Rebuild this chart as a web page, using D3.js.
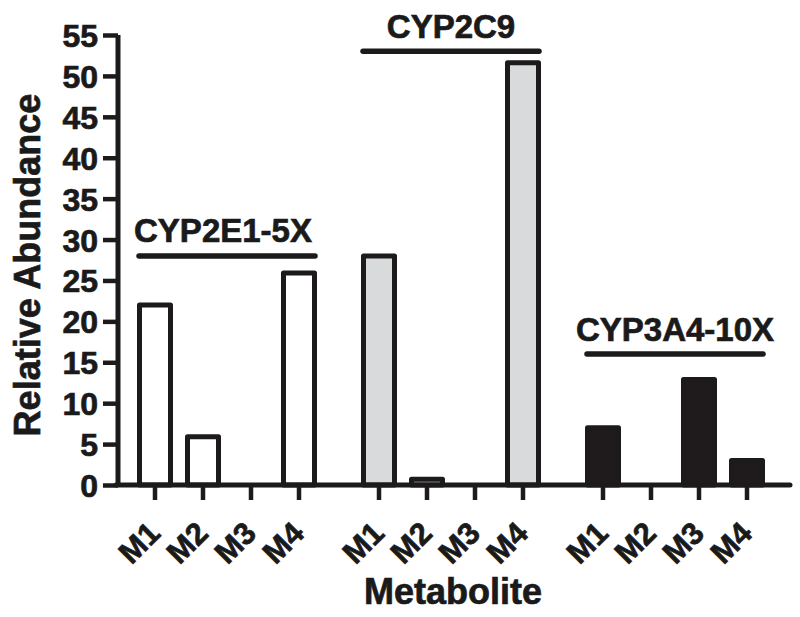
<!DOCTYPE html>
<html>
<head>
<meta charset="utf-8">
<script src="https://cdn.jsdelivr.net/npm/d3@7"></script>
<style>
  html, body { margin: 0; padding: 0; background: #fff; }
  svg { display: block; }
  text { font-family: "Liberation Sans", Arial, Helvetica, sans-serif; font-weight: bold; fill: #1a1a1a; stroke: #1a1a1a; stroke-width: 0.7px; }
</style>
</head>
<body>
<svg id="chart" width="800" height="617"></svg>
<script>
// ---- data ----
const groups = ["CYP2E1-5X", "CYP2C9", "CYP3A4-10X"];
const metabolites = ["M1", "M2", "M3", "M4"];
const cyp2e1Values = [22, 5.9, 0, 25.9];
const cyp2c9Values = [28, 0.7, 0, 51.6];
const cyp3a4Values = [7, 0, 12.9, 3];
const groupLineLevels = [28, 53, 16];
const yTicks = [0, 5, 10, 15, 20, 25, 30, 35, 40, 45, 50, 55];
const groupFills = ["#ffffff", "#d9dadc", "#1f1b1c"];

const seriesValues = [cyp2e1Values, cyp2c9Values, cyp3a4Values];

// ---- layout ----
const ink = "#1c1a1b";
const svg = d3.select("#chart");

const y = d3.scaleLinear().domain([0, 55]).range([485, 35]);
const xGroup = d3.scaleBand().domain(groups).range([131, 771]).paddingInner(1 / 7).paddingOuter(0);
const xInner = d3.scaleBand().domain(metabolites).range([0, xGroup.bandwidth()]).padding(0);
const barW = 31;
const cx = (g, m) => xGroup(g) + xInner(m) + xInner.bandwidth() / 2;

const flat = [];
groups.forEach((g, gi) => metabolites.forEach((m, mi) => flat.push({ g, gi, m, v: seriesValues[gi][mi] })));

// bars
svg.append("g").selectAll("rect").data(flat.filter(d => d.v > 0)).join("rect")
  .attr("x", d => cx(d.g, d.m) - barW / 2)
  .attr("y", d => y(d.v))
  .attr("width", barW)
  .attr("height", d => y(0) - y(d.v))
  .attr("fill", d => groupFills[d.gi])
  .attr("stroke", ink)
  .attr("stroke-width", 5)
  .attr("stroke-linejoin", "round");

// y axis
const yAxis = svg.append("g").attr("transform", "translate(118,0)")
  .call(d3.axisLeft(y).tickValues(yTicks).tickSize(15).tickPadding(5).tickSizeOuter(0));
yAxis.select(".domain").attr("stroke", ink).attr("stroke-width", 5).attr("d", `M0,${y(55)}V${y(0)}`);
yAxis.selectAll(".tick line").attr("stroke", ink).attr("stroke-width", 4.5);
yAxis.selectAll(".tick text").style("font-size", "32px").style("font-weight", "bold")
  .attr("fill", ink).attr("dy", "0.36em");

// x axis
const xAxisG = svg.append("g");
xAxisG.append("line").attr("x1", 116).attr("x2", 790).attr("y1", y(0)).attr("y2", y(0))
  .attr("stroke", ink).attr("stroke-width", 5).attr("stroke-linecap", "round");
xAxisG.selectAll("line.xt").data(flat).join("line").attr("class", "xt")
  .attr("x1", d => cx(d.g, d.m)).attr("x2", d => cx(d.g, d.m))
  .attr("y1", y(0)).attr("y2", y(0) + 15)
  .attr("stroke", ink).attr("stroke-width", 4.5);
xAxisG.selectAll("text.xl").data(flat).join("text").attr("class", "xl")
  .attr("transform", d => `translate(${cx(d.g, d.m) + 7},${y(0) + 50}) rotate(-45)`)
  .attr("text-anchor", "end")
  .style("font-size", "31px")
  .text(d => d.m);

// group labels
const gl = svg.append("g").selectAll("g").data(groups).join("g");
gl.append("line")
  .attr("x1", g => xGroup(g) + 8).attr("x2", g => xGroup(g) + xGroup.bandwidth() - 8)
  .attr("y1", (g, i) => y(groupLineLevels[i])).attr("y2", (g, i) => y(groupLineLevels[i]))
  .attr("stroke", ink).attr("stroke-width", 5.5).attr("stroke-linecap", "round");
gl.append("text")
  .attr("x", (g, i) => xGroup(g) + xGroup.bandwidth() / 2 - (i === 0 ? 4 : 0))
  .attr("y", (g, i) => y(groupLineLevels[i]) - 13.5)
  .attr("text-anchor", "middle")
  .style("font-size", "33px")
  .text(g => g);

// axis titles
svg.append("text").attr("transform", "translate(40,265) rotate(-90)")
  .attr("text-anchor", "middle").style("font-size", "36px").text("Relative Abundance");
svg.append("text").attr("x", 453).attr("y", 604)
  .attr("text-anchor", "middle").style("font-size", "36px").text("Metabolite");
</script>
</body>
</html>
